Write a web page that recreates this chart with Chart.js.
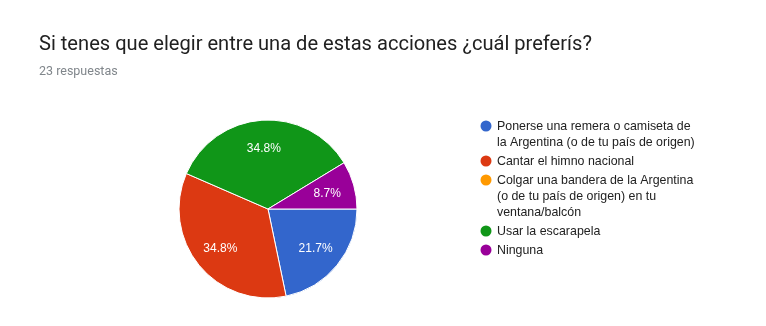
<!DOCTYPE html>
<html>
<head>
<meta charset="utf-8">
<script src="https://cdn.jsdelivr.net/npm/chart.js@4/dist/chart.umd.min.js"></script>
<style>
  html, body { margin: 0; padding: 0; background: #fff; }
  #wrap { position: relative; width: 766px; height: 326px; overflow: hidden; }
  #chart { position: absolute; left: 0; top: 0; }
  .ttl { position: absolute; left: 39px; top: 31px; font: 20.1px Roboto, sans-serif; color: #212121; white-space: nowrap; }
  .sub { position: absolute; left: 39px; top: 63px; font: 12.5px Roboto, sans-serif; color: #80868b; white-space: nowrap; }
</style>
</head>
<body>
<div id="wrap">
  <canvas id="chart" width="766" height="326"></canvas>
  <div class="ttl">Si tenes que elegir entre una de estas acciones ¿cuál preferís?</div>
  <div class="sub">23 respuestas</div>
</div>
<script>
// respuestas por opción (total 23)
const labels = [
  ['Ponerse una remera o camiseta de', 'la Argentina (o de tu país de origen)'],
  ['Cantar el himno nacional'],
  ['Colgar una bandera de la Argentina', '(o de tu país de origen) en tu', 'ventana/balcón'],
  ['Usar la escarapela'],
  ['Ninguna']
];
const counts = [5, 8, 0, 8, 2];
const colors = ['#3366cc', '#dc3912', '#ff9900', '#109618', '#990099'];

// porcentajes blancos dentro de cada porción
const sliceLabels = {
  id: 'sliceLabels',
  afterDatasetsDraw(chart) {
    const ctx = chart.ctx;
    const total = counts.reduce((a, b) => a + b, 0);
    const meta = chart.getDatasetMeta(0);
    ctx.save();
    ctx.font = '12px Arial, "Liberation Sans", sans-serif';
    ctx.fillStyle = '#fff';
    ctx.textAlign = 'center';
    ctx.textBaseline = 'middle';
    meta.data.forEach((arc, i) => {
      if (!counts[i]) return;
      const mid = (arc.startAngle + arc.endAngle) / 2;
      const r = arc.outerRadius * 0.69;
      const txt = (counts[i] / total * 100).toFixed(1) + '%';
      ctx.fillText(txt, arc.x + Math.cos(mid) * r, arc.y + Math.sin(mid) * r + 1);
    });
    ctx.restore();
  }
};

// leyenda a la derecha, con texto en varias líneas
const sideLegend = {
  id: 'sideLegend',
  afterDraw(chart) {
    const ctx = chart.ctx;
    const lineH = 16, gap = 3;
    let y = 126;
    ctx.save();
    ctx.font = '12.4px Arial, "Liberation Sans", sans-serif';
    ctx.textBaseline = 'middle';
    labels.forEach((lines, i) => {
      ctx.fillStyle = colors[i];
      ctx.beginPath();
      ctx.arc(486, y, 5.5, 0, Math.PI * 2);
      ctx.fill();
      ctx.fillStyle = '#222';
      lines.forEach((ln, j) => ctx.fillText(ln, 497, y + j * lineH + 1));
      y += lines.length * lineH + gap;
    });
    ctx.restore();
  }
};

new Chart(document.getElementById('chart'), {
  type: 'pie',
  data: {
    labels: labels.map(l => l.join(' ')),
    datasets: [{
      data: counts,
      backgroundColor: colors,
      borderColor: '#fff',
      borderWidth: 1,
      hoverOffset: 0,
      radius: 89
    }]
  },
  options: {
    responsive: false,
    animation: false,
    rotation: 90,
    layout: { padding: { left: 179, right: 409, top: 120, bottom: 28 } },
    plugins: { legend: { display: false }, tooltip: { enabled: false }, title: { display: false } }
  },
  plugins: [sliceLabels, sideLegend]
});
</script>
</body>
</html>
